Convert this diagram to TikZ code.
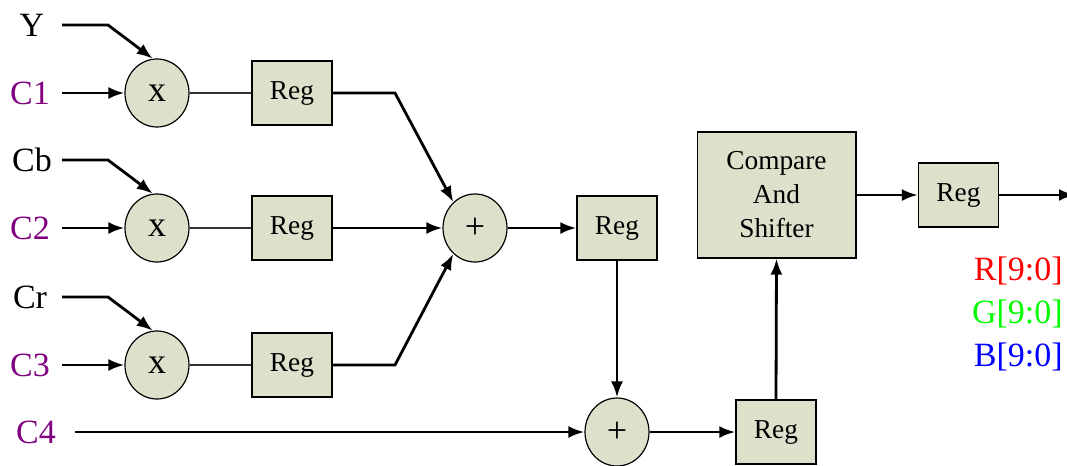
\documentclass[tikz,border=0pt]{standalone}
\usepackage{fontspec}
\setmainfont{Liberation Serif}
\usetikzlibrary{arrows.meta,shapes.geometric}
\definecolor{boxfill}{RGB}{221,224,203}
\definecolor{cpurple}{RGB}{128,0,128}
\begin{document}
\begin{tikzpicture}[x=0.75pt,y=-0.75pt,
  lbl/.style={inner sep=0pt,font=\fontsize{25.5}{30}\selectfont},
  op/.style={ellipse,draw,line width=0.9pt,fill=boxfill,minimum width=48pt,minimum height=51pt,inner sep=0pt,font=\fontsize{27}{28}\selectfont},
  reg/.style={draw,line width=1pt,fill=boxfill,minimum width=60pt,minimum height=48pt,inner sep=0pt,font=\fontsize{20.5}{25.5}\selectfont},
  wire/.style={line width=2.1pt},
  thin/.style={line width=0.8pt,black!80},
  arr/.style={wire,-{Latex[length=12pt,width=9pt]}}]
\useasboundingbox (0,0) rectangle (1067,465);
\clip (0,0) rectangle (1067,465);

% input labels
\node[lbl] (lY)  at (32,25)  {Y};
\node[lbl,text=cpurple] (lC1) at (30,93)  {C1};
\node[lbl] (lCb) at (32,160) {Cb};
\node[lbl,text=cpurple] (lC2) at (30,228) {C2};
\node[lbl] (lCr) at (30,297) {Cr};
\node[lbl,text=cpurple] (lC3) at (30,365) {C3};
\node[lbl,text=cpurple] (lC4) at (36,432) {C4};

% output labels
\node[lbl,text=red,anchor=east]  (oR) at (1063,271) {R[9:0]};
\node[lbl,text=green,anchor=east] (oG) at (1063,314) {G[9:0]};
\node[lbl,text=blue,anchor=east]  (oB) at (1063,357) {B[9:0]};

% line starts
\coordinate (sY)  at (62,25);
\coordinate (sC1) at (62,93);
\coordinate (sCb) at (62,160);
\coordinate (sC2) at (62,228);
\coordinate (sCr) at (62,297);
\coordinate (sC3) at (62,365);
\coordinate (sC4) at (75,432);
\coordinate (out) at (1075,195);

% multipliers
\node[op] (m1) at (157,93)  {x};
\node[op] (m2) at (157,228) {x};
\node[op] (m3) at (157,365) {x};

% first register column
\node[reg] (r1) at (292,93)  {Reg};
\node[reg] (r2) at (292,228) {Reg};
\node[reg] (r3) at (292,365) {Reg};

% adders
\node[op] (p1) at (475,228) {+};
\node[op] (p2) at (617,432) {+};

% later registers
\node[reg] (r4) at (617,228) {Reg};
\node[reg] (r5) at (776,432) {Reg};
\node[reg,minimum width=119pt,minimum height=94.5pt,align=center] (cs) at (776.5,195)
  {Compare\\And\\Shifter};
\node[reg] (r6) at (958.5,195) {Reg};

% multiplier inputs
\draw[arr] (sY) -- (108,25) -- (m1.97);
\draw[arr] (sC1) -- (m1.west);
\draw[arr] (sCb) -- (108,160) -- (m2.97);
\draw[arr] (sC2) -- (m2.west);
\draw[arr] (sCr) -- (108,297) -- (m3.97);
\draw[arr] (sC3) -- (m3.west);

% multipliers to registers
\draw[thin] (m1.east) -- (r1.west);
\draw[thin] (m2.east) -- (r2.west);
\draw[thin] (m3.east) -- (r3.west);

% registers to first adder
\draw[arr] (r1.east) -- (395,93) -- (p1.130);
\draw[arr] (r2.east) -- (p1.west);
\draw[arr] (r3.east) -- (395,365) -- (p1.-130);

% remaining datapath
\draw[arr] (p1.east) -- (r4.west);
\draw[arr] (r4.south) -- (p2.north);
\draw[arr] (sC4) -- (p2.west);
\draw[arr] (p2.east) -- (r5.west);
\draw[arr] (r5.north) -- (cs.south);
\draw[arr] (cs.east) -- (r6.west);
\draw[arr] (r6.east) -- (out);
\end{tikzpicture}
\end{document}
